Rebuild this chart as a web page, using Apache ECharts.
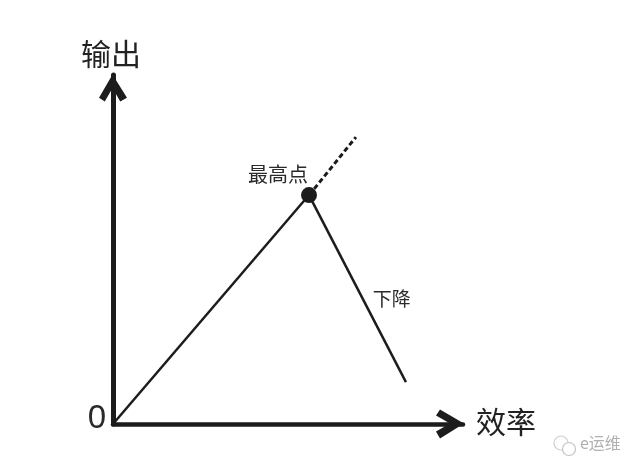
<!DOCTYPE html>
<html><head><meta charset="utf-8">
<style>html,body{margin:0;padding:0;background:#fff}#c{width:640px;height:472px}</style>
<script src="https://cdn.jsdelivr.net/npm/echarts@6/dist/echarts.min.js"></script>
</head><body><div id="c"></div>
<script>
const xAxisName = '效率';
const yAxisName = '输出';
const riseLine = [[0, 0], [56, 65.6]];
const projectedLine = [[57.5, 67.4], [69.4, 82.2]];
const fallLine = [[56, 65.6], [83.7, 12.0]];
const peakPoint = [[56, 65.6]];
const peakLabel = '最高点';
const fallLabelPoint = [[72.5, 36]];
const fallLabel = '下降';
const font = '"Noto Sans CJK SC"';
const ink = '#1c1c1c';
const chevron = 'path://M14 0 L29 24 L22 28 L14 14 L6 28 L0 24 Z';

const chart = echarts.init(document.getElementById('c'), null, {renderer: 'canvas'});
chart.setOption({
  animation: false,
  backgroundColor: '#fff',
  grid: {left: 113, right: 177, top: 75, bottom: 48},
  xAxis: {
    type: 'value', min: 0, max: 100, interval: 100,
    splitLine: {show: false}, axisTick: {show: false}, axisLabel: {show: false},
    axisLine: {onZero: false, lineStyle: {color: ink, width: 4.5},
      symbol: ['none', chevron], symbolSize: [30, 28], symbolOffset: [0, -13]},
    name: xAxisName, nameLocation: 'end', nameGap: 13,
    nameTextStyle: {fontFamily: font, fontSize: 30, color: '#222', verticalAlign: 'bottom', lineHeight: 5}
  },
  yAxis: {
    type: 'value', min: 0, max: 100, interval: 100,
    splitLine: {show: false}, axisTick: {show: false},
    axisLabel: {show: true, margin: 7, fontFamily: 'Liberation Sans', fontSize: 33, color: '#2a2a2a',
      verticalAlign: 'bottom', lineHeight: 10, formatter: v => v === 0 ? '0' : ''},
    axisLine: {onZero: false, lineStyle: {color: ink, width: 5},
      symbol: ['none', chevron], symbolSize: [29, 27], symbolOffset: [0, -13]},
    name: yAxisName, nameLocation: 'end', nameGap: 6,
    nameTextStyle: {fontFamily: font, fontSize: 30, color: '#222', align: 'center', padding: [0, 4, 0, 0]}
  },
  series: [
    {type: 'line', data: riseLine, symbol: 'none', lineStyle: {color: ink, width: 2.5}},
    {type: 'line', data: fallLine, symbol: 'none', lineStyle: {color: ink, width: 2.5}},
    {type: 'line', data: projectedLine, symbol: 'none',
      lineStyle: {color: ink, width: 3, type: [5, 3]}},
    {type: 'scatter', data: peakPoint, symbolSize: 16, itemStyle: {color: ink, opacity: 1},
      label: {show: true, position: 'left', distance: -8, offset: [-1, -21], formatter: peakLabel,
        fontFamily: font, fontSize: 20, color: '#2a2a2a'}},
    {type: 'scatter', data: fallLabelPoint, symbolSize: 0, itemStyle: {opacity: 1},
      label: {show: true, position: 'right', distance: 6, formatter: fallLabel,
        fontFamily: font, fontSize: 19, color: '#2a2a2a'}}
  ],
  graphic: [
    {type: 'circle', shape: {cx: 561, cy: 443, r: 7}, style: {fill: 'none', stroke: '#cfcfcf', lineWidth: 1.2}},
    {type: 'circle', shape: {cx: 569, cy: 449, r: 6.5}, style: {fill: '#fff', stroke: '#c4c4c4', lineWidth: 1.2}},
    {type: 'text', left: 580, top: 435, style: {text: 'e运维', fontFamily: font, fontSize: 16, fill: '#b0b0b0'}}
  ]
});
</script></body></html>
